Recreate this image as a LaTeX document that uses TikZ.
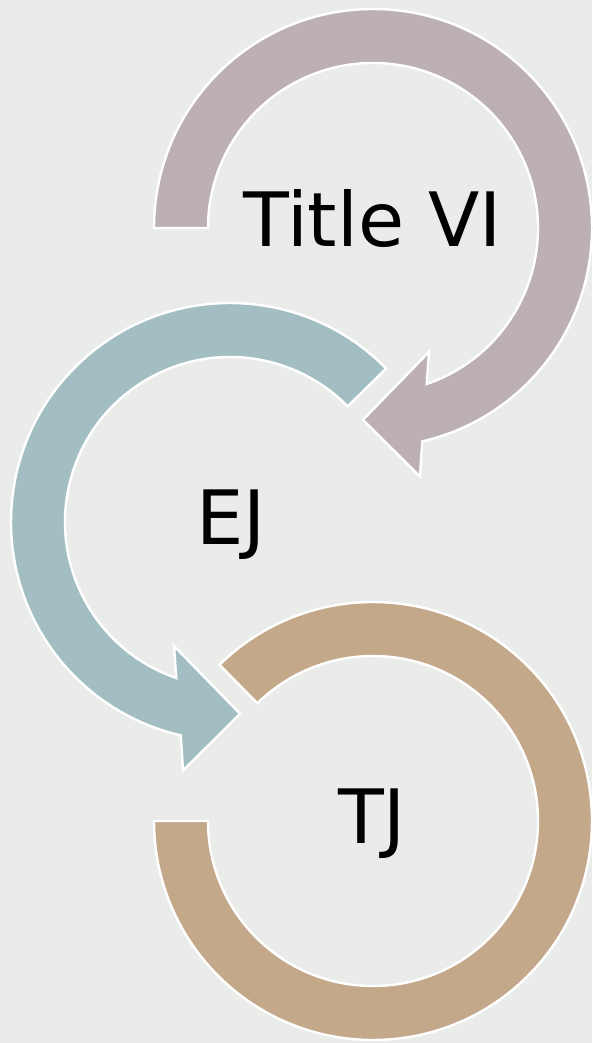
\documentclass[tikz,border=0pt]{standalone}
\usepackage{fontspec}
\setmainfont{DejaVu Sans}
\usepackage{xcolor}
\definecolor{paper}{RGB}{234,236,233}
\definecolor{mymauve}{RGB}{188,176,180}
\definecolor{myteal}{RGB}{163,190,194}
\definecolor{mytan}{RGB}{196,168,138}
\usepackage{tikz}
\newcommand{\outerr}{219}
\newcommand{\innerr}{165}
\tikzset{
    ring/.style={draw=white, line width=2.4pt, line join=miter},
    caption/.style={anchor=base, inner sep=0pt, font=\fontsize{75}{90}\selectfont}
}

\begin{document}
\begin{tikzpicture}[x=1pt, y=1pt]
            \useasboundingbox (0,0) rectangle (592,-1043);
            \fill[paper] (0,0) rectangle (592,-1043);
            \clip (0,0) rectangle (592,-1043);

            % Title VI ring, clockwise, arrow at the bottom
            \begin{scope}[shift={(373,-228)}]
                \fill[mymauve, ring]
                    (180:\outerr) arc[start angle=180, end angle=-77, radius=\outerr]
                    -- (-79.3:253) -- (-93:192) -- (-65.7:136)
                    -- (-71:\innerr) arc[start angle=-71, end angle=180, radius=\innerr] -- cycle;
            \end{scope}

            % EJ ring, counter clockwise, arrow at the bottom
            \begin{scope}[shift={(230,-522)}]
                \fill[myteal, ring]
                    (44.5:\outerr) arc[start angle=44.5, end angle=257, radius=\outerr]
                    -- (259.3:253) -- (273:192) -- (245.7:136)
                    -- (251:\innerr) arc[start angle=251, end angle=44.5, radius=\innerr] -- cycle;
            \end{scope}

            % TJ ring, no arrow
            \begin{scope}[shift={(373,-821)}]
                \fill[mytan, ring]
                    (134.5:\outerr) arc[start angle=134.5, end angle=-180, radius=\outerr]
                    -- (-180:\innerr) arc[start angle=-180, end angle=134.5, radius=\innerr] -- cycle;
            \end{scope}

            \node[caption] (title) at (372.5,-246) {Title VI};
            \node[caption] (ej) at (231,-544) {EJ};
            \node[caption] (tj) at (372,-843) {TJ};
        \end{tikzpicture}
\end{document}
